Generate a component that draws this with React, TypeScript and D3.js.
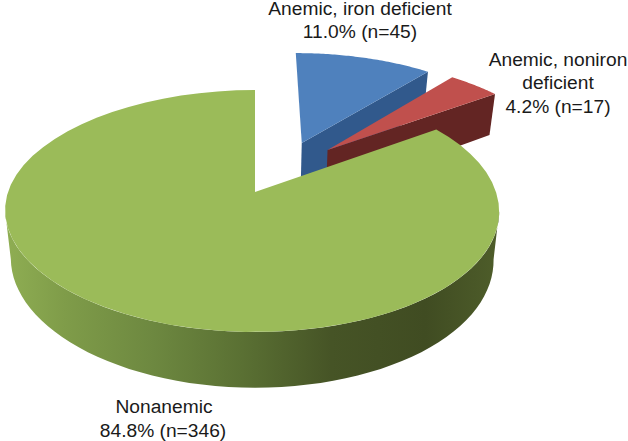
import React from 'react';
import * as d3 from 'd3';

const categories = ['Anemic, iron deficient', 'Anemic, noniron deficient', 'Nonanemic'];
const counts = [45, 17, 346];
const percents = ['11.0%', '4.2%', '84.8%'];

const width = 628;
const height = 441;

// projection of the tilted disc onto the page
const apex = { x: 255, y: 192 };
const radiusX = 244;
const radiusY = 118;
const persp = 0.157;
const depth = 47;
const bottomShrink = 0.977;

// slice offsets, in disc units; lean nudges the sides of the big slice left
const explode = [
  { x: 0.205, y: -0.444, lean: 0 },
  { x: 0.315, y: -0.377, lean: 0 },
  { x: 0, y: 0, lean: 3 },
];

const project = (
  a: number,
  r: number,
  off: { x: number; y: number; lean: number },
  bottom = false
): [number, number] => {
  const X = off.x + r * Math.sin(a);
  const Y = off.y - r * Math.cos(a);
  const w = 1 - persp * Y;
  const px = (radiusX * X) / w - off.lean * r * Math.pow(Math.sin(a), 4);
  const py = apex.y + (radiusY * Y) / w;
  if (!bottom) return [apex.x + px, py];
  return [apex.x + px * bottomShrink, py + depth / w];
};

const line = d3.line();
const sweep = (a0: number, a1: number, off: { x: number; y: number; lean: number }, bottom = false) =>
  d3.range(0, 61).map((i) => project(a0 + ((a1 - a0) * i) / 60, 1, off, bottom));

const slices = d3.pie<number>().sort(null)(counts);

const topFace = (i: number) => {
  const s = slices[i];
  const off = explode[i];
  return line([project(0, 0, off), ...sweep(s.startAngle, s.endAngle, off)]) + 'Z';
};

// wall under the leading cut of an exploded slice
const cutWall = (i: number, a: number) => {
  const off = explode[i];
  return (
    line([
      project(0, 0, off),
      project(a, 1, off),
      project(a, 1, off, true),
      project(0, 0, off, true),
    ]) + 'Z'
  );
};

// front of the big slice, edge to edge
const frontStart = Math.acos(-persp);
const frontEnd = 2 * Math.PI - frontStart;
const frontWall = () => {
  const off = explode[2];
  return line([...sweep(frontStart, frontEnd, off), ...sweep(frontEnd, frontStart, off, true)]) + 'Z';
};

const wallStops = [
  { at: 0, color: '#8fae53' },
  { at: 0.12, color: '#7f9c49' },
  { at: 0.3, color: '#6d8840' },
  { at: 0.48, color: '#5a7033' },
  { at: 0.66, color: '#465426' },
  { at: 0.85, color: '#404c22' },
  { at: 1, color: '#4e5d2a' },
];

const labelStyle = { fontFamily: '"Liberation Sans", Arial, sans-serif', fontSize: 19.2, fill: '#1a1a1a' };

export default function App() {
  return (
    <svg width={width} height={height} style={{ position: 'absolute', left: 0, top: 0, background: '#fff' }}>
      <defs>
        <linearGradient id="wall" x1="0" x2="1" y1="0" y2="0">
          {wallStops.map((d) => (
            <stop key={d.at} offset={d.at} stopColor={d.color} />
          ))}
        </linearGradient>
      </defs>

      <path d={cutWall(0, slices[0].endAngle)} fill="#31598c" />
      <path d={topFace(0)} fill="#4f81bd" />
      <path d={cutWall(1, slices[1].endAngle)} fill="#632523" />
      <path d={topFace(1)} fill="#c0504d" />
      <path d={frontWall()} fill="url(#wall)" />
      <path d={topFace(2)} fill="#9bbb59" />

      <g style={labelStyle} textAnchor="middle">
        <text x={360} y={15}>{categories[0]}</text>
        <text x={360} y={38}>{`${percents[0]} (n=${counts[0]})`}</text>
        <text x={558} y={66}>Anemic, noniron</text>
        <text x={558} y={89}>deficient</text>
        <text x={558} y={113}>{`${percents[1]} (n=${counts[1]})`}</text>
        <text x={164} y={413}>{categories[2]}</text>
        <text x={163} y={437}>{`${percents[2]} (n=${counts[2]})`}</text>
      </g>
    </svg>
  );
}
